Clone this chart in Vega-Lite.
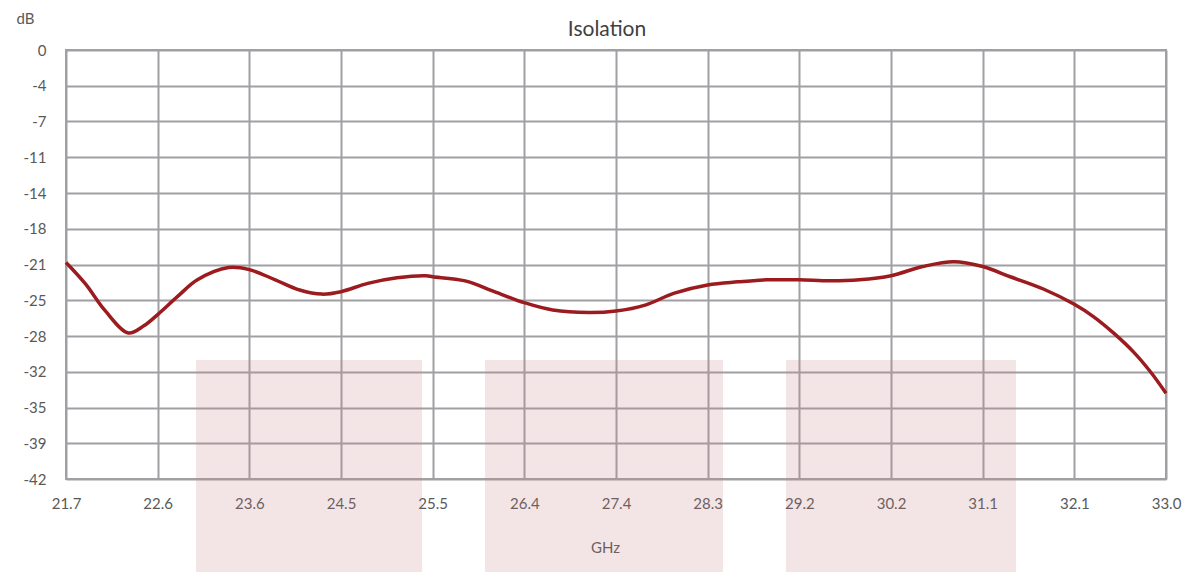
{
  "$schema": "https://vega.github.io/schema/vega-lite/v6.json",
  "width": 1100,
  "height": 429,
  "autosize": {"type": "none"},
  "padding": {"left": 66, "top": 50, "right": 32, "bottom": 94},
  "background": "#ffffff",
  "config": {
    "view": {"stroke": "#a0a0a4", "strokeWidth": 2},
    "font": "Lato",
    "axis": {"labelFont": "Lato", "titleFont": "Lato"}
  },
  "title": {
    "text": "Isolation",
    "fontSize": 21,
    "fontWeight": "normal",
    "color": "#404040",
    "font": "Lato",
    "anchor": "middle",
    "frame": "group",
    "dx": -9,
    "offset": -29
  },
  "datasets": {
    "curve": [
      {"f": 21.70, "db": -20.8},
      {"f": 21.90, "db": -22.9},
      {"f": 22.10, "db": -25.5},
      {"f": 22.34, "db": -27.7},
      {"f": 22.50, "db": -27.0},
      {"f": 22.642, "db": -25.9},
      {"f": 22.85, "db": -24.1},
      {"f": 23.05, "db": -22.5},
      {"f": 23.37, "db": -21.3},
      {"f": 23.583, "db": -21.5},
      {"f": 23.85, "db": -22.5},
      {"f": 24.10, "db": -23.5},
      {"f": 24.33, "db": -23.9},
      {"f": 24.525, "db": -23.66},
      {"f": 24.80, "db": -22.85},
      {"f": 25.10, "db": -22.3},
      {"f": 25.40, "db": -22.1},
      {"f": 25.467, "db": -22.2},
      {"f": 25.80, "db": -22.6},
      {"f": 26.10, "db": -23.65},
      {"f": 26.408, "db": -24.74},
      {"f": 26.70, "db": -25.45},
      {"f": 27.07, "db": -25.7},
      {"f": 27.35, "db": -25.55},
      {"f": 27.65, "db": -24.97},
      {"f": 27.95, "db": -23.8},
      {"f": 28.292, "db": -23.0},
      {"f": 28.60, "db": -22.7},
      {"f": 28.90, "db": -22.5},
      {"f": 29.233, "db": -22.5},
      {"f": 29.55, "db": -22.6},
      {"f": 29.85, "db": -22.5},
      {"f": 30.175, "db": -22.1},
      {"f": 30.50, "db": -21.2},
      {"f": 30.82, "db": -20.72},
      {"f": 31.117, "db": -21.2},
      {"f": 31.40, "db": -22.2},
      {"f": 31.74, "db": -23.4},
      {"f": 32.058, "db": -24.9},
      {"f": 32.254, "db": -26.1},
      {"f": 32.46, "db": -27.7},
      {"f": 32.67, "db": -29.6},
      {"f": 32.84, "db": -31.5},
      {"f": 33.00, "db": -33.6}
    ],
    "bands": [
      {"start": 23.035, "end": 25.357, "top": -30.35, "bottom": -51.1},
      {"start": 26.004, "end": 28.449, "top": -30.35, "bottom": -51.1},
      {"start": 29.096, "end": 31.459, "top": -30.35, "bottom": -51.1}
    ]
  },
  "encoding": {
    "x": {
      "type": "quantitative",
      "scale": {"domain": [21.7, 33.0], "nice": false, "zero": false},
      "axis": {
        "title": "GHz",
        "values": [21.7, 22.6417, 23.5833, 24.525, 25.4667, 26.4083, 27.35, 28.2917, 29.2333, 30.175, 31.1167, 32.0583, 33.0],
        "format": ".1f",
        "grid": true,
        "gridColor": "#a0a0a4",
        "gridWidth": 2,
        "gridOpacity": 1,
        "domain": false,
        "ticks": false,
        "labelFontSize": 15,
        "labelColor": "#595959",
        "labelPadding": 17,
        "labelFlush": false,
        "titleFontSize": 15,
        "titleFontWeight": "normal",
        "titleColor": "#595959",
        "titleX": 539,
        "titleY": 68,
        "titleAnchor": null,
        "titleAlign": "center",
        "titleBaseline": "middle"
      }
    },
    "y": {
      "type": "quantitative",
      "scale": {"domain": [-42, 0], "nice": false, "zero": false},
      "axis": {
        "title": "dB",
        "values": [-42, -38.5, -35, -31.5, -28, -24.5, -21, -17.5, -14, -10.5, -7, -3.5, 0],
        "labelExpr": "datum.value == 0 ? '0' : '-' + format(-datum.value, '.0f')",
        "grid": true,
        "gridColor": "#a0a0a4",
        "gridWidth": 2,
        "gridOpacity": 1,
        "domain": false,
        "ticks": false,
        "labelFontSize": 15,
        "labelColor": "#595959",
        "labelPadding": 20,
        "labelFlush": false,
        "titleFontSize": 15,
        "titleFontWeight": "normal",
        "titleColor": "#595959",
        "titleAngle": 0,
        "titleX": -41,
        "titleY": -32,
        "titleAlign": "center",
        "titleBaseline": "middle"
      }
    }
  },
  "layer": [
    {
      "data": {"name": "bands"},
      "mark": {"type": "rect", "clip": false, "color": "#c37d82", "opacity": 0.2},
      "encoding": {
        "x": {"field": "start", "type": "quantitative"},
        "x2": {"field": "end"},
        "y": {"field": "top", "type": "quantitative"},
        "y2": {"field": "bottom"}
      }
    },
    {
      "data": {"name": "curve"},
      "mark": {"type": "line", "color": "#9b1b1f", "strokeWidth": 3.5, "interpolate": "catmull-rom", "clip": false},
      "encoding": {
        "x": {"field": "f", "type": "quantitative"},
        "y": {"field": "db", "type": "quantitative"}
      }
    }
  ]
}
